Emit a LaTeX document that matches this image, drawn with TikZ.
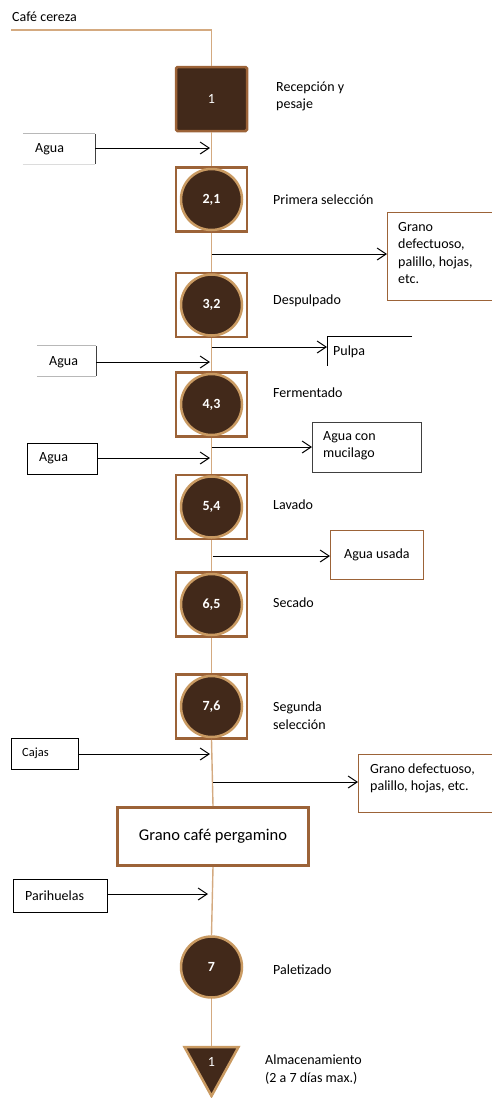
\documentclass[tikz,border=0pt]{standalone}
\usepackage{fontspec}
\setmainfont{Carlito}
\usetikzlibrary{arrows.meta}
\definecolor{bean}{HTML}{42291A}
\definecolor{rim}{HTML}{9C6338}
\definecolor{tanrim}{HTML}{C99A62}
\definecolor{flow}{HTML}{D4AA80}
\definecolor{edgegray}{HTML}{404040}
\definecolor{palegray}{HTML}{B8B8B8}
\begin{document}
\begin{tikzpicture}[x=1pt,y=-1pt,
  lbl/.style={anchor=west, font=\fontsize{14}{17.5}\selectfont, align=left, inner sep=0pt},
  frame/.style={draw=rim, line width=2.5pt, fill=white, minimum width=71pt, minimum height=64pt, inner sep=0pt},
  disc/.style={circle, draw=tanrim, line width=2.5pt, fill=bean, minimum size=61pt, inner sep=0pt,
    text=white, font=\bfseries\fontsize{14}{16}\selectfont},
  flowline/.style={draw=flow, line width=1.4pt},
  arr/.style={draw=black, line width=1pt, -{Straight Barb[length=9pt,width=12pt,line width=1pt]}},
  sidebox/.style={rectangle, line width=0.9pt, inner sep=0pt, anchor=north west},
  txt/.style={anchor=west, inner sep=0pt, align=left, font=\fontsize{14}{17.5}\selectfont}
]
\useasboundingbox (0,0) rectangle (491,1098);

% ---------- process steps on the main line ----------
\node[rectangle, draw=rim, line width=2.5pt, fill=bean, rounded corners=1.5pt,
      minimum width=71pt, minimum height=64pt, text=white,
      font=\fontsize{14}{16}\selectfont] (s1) at (211.5,99) {1};

\node[frame] (s2) at (211.5,199.5) {};
\node[disc]  (c2) at (211.5,199.5) {2,1};
\node[frame] (s3) at (211.5,305) {};
\node[disc]  (c3) at (211.5,305) {3,2};
\node[frame] (s4) at (211.5,404.5) {};
\node[disc]  (c4) at (211.5,404.5) {4,3};
\node[frame] (s5) at (211.5,507) {};
\node[disc]  (c5) at (211.5,507) {5,4};
\node[frame] (s6) at (211.5,604.5) {};
\node[disc]  (c6) at (211.5,604.5) {6,5};
\node[frame] (s7) at (211.5,706.5) {};
\node[disc]  (c7) at (211.5,706.5) {7,6};

\node[rectangle, draw=rim, line width=3pt, fill=white, minimum width=191pt, minimum height=58pt,
      font=\fontsize{16.5}{20}\selectfont] (perg) at (213,836.5) {Grano café pergamino};

\node[disc] (pal) at (211.5,967) {7};

% storage triangle
\coordinate (tri) at (211.5,1046);
\draw[draw=tanrim, fill=bean, line width=2.5pt, line join=miter]
  (184.5,1047) -- (238.5,1047) -- (211.5,1096) -- cycle;
\node[text=white, font=\fontsize{14}{16}\selectfont] (t1) at (211.5,1062) {1};

% ---------- step labels ----------
\node[txt] (cafe) at (12,17) {Café cereza};
\node[lbl] (l1) at (276,96.5) {Recepción y\\pesaje};
\node[lbl] (l2) at (273,200) {Primera selección};
\node[lbl] (l3) at (273,301) {Despulpado};
\node[lbl] (l4) at (273,393) {Fermentado};
\node[lbl] (l5) at (273,505) {Lavado};
\node[lbl] (l6) at (273,603) {Secado};
\node[lbl] (l7) at (273,715.5) {Segunda\\selección};
\node[lbl] (l8) at (273,970) {Paletizado};
\node[lbl] (l9) at (265,1069.5) {Almacenamiento\\(2 a 7 días max.)};

% ---------- main flow line ----------
\coordinate (start) at (11,30);
\coordinate (bend) at (211.5,30);
\draw[flowline] (start) -- (bend) -- (s1.north);
\draw[flowline] (s1.south) -- (s2.north);
\draw[flowline] (s2.south) -- (s3.north);
\draw[flowline] (s3.south) -- (s4.north);
\draw[flowline] (s4.south) -- (s5.north);
\draw[flowline] (s5.south) -- (s6.north);
\draw[flowline] (s6.south) -- (s7.north);
\draw[flowline] (s7.south) -- (perg.north);
\draw[flowline] (perg.south) -- (pal.north);
\draw[flowline] (pal.south) -- (tri);

% ---------- inputs ----------
% water for reception
\node[rectangle, minimum width=72pt, minimum height=30pt, inner sep=0pt] (a1) at (59,149) {};
\node[txt] (a1t) at (35,149) {Agua};
\draw[palegray, line width=0.8pt] (a1.north west) -- (a1.north east);
\draw[palegray!50, line width=0.8pt] (a1.south west) -- (a1.south east);
\draw[edgegray, line width=0.9pt] (a1.north east) -- (a1.south east);
\coordinate (in1) at (210,148);
\draw[arr] (a1.east |- in1) -- (in1);

% water for pulping
\node[rectangle, minimum width=59pt, minimum height=30pt, inner sep=0pt] (a2) at (66.5,361) {};
\node[txt] (a2t) at (49,362) {Agua};
\draw[palegray, line width=0.8pt] (a2.north west) -- (a2.north east);
\draw[palegray, line width=0.8pt] (a2.south west) -- (a2.south east);
\draw[edgegray, line width=0.9pt] (a2.north east) -- (a2.south east);
\coordinate (in2) at (210,362);
\draw[arr] (a2.east |- in2) -- (in2);

% water for fermenting
\node[rectangle, draw=black, line width=0.9pt, minimum width=70pt, minimum height=31pt, inner sep=0pt] (a3) at (62,458.5) {};
\node[txt] (a3t) at (39,458) {Agua};
\coordinate (in3) at (210,458);
\draw[arr] (a3.east |- in3) -- (in3);

% boxes
\node[rectangle, draw=black, line width=0.9pt, minimum width=67pt, minimum height=31pt, inner sep=0pt] (cj) at (44.5,753.5) {};
\node[anchor=west, inner sep=0pt, font=\fontsize{12.5}{14}\selectfont] (cjt) at (22,753) {Cajas};
\coordinate (in4) at (210,754);
\draw[arr] (cj.east |- in4) -- (in4);

% pallets
\node[rectangle, draw=black, line width=0.9pt, minimum width=94pt, minimum height=33pt, inner sep=0pt] (ph) at (60,895.5) {};
\node[txt] (pht) at (25,896) {Parihuelas};
\coordinate (in5) at (208,894);
\draw[arr] (ph.east |- in5) -- (in5);

% ---------- outputs ----------
\node[sidebox, draw=rim, minimum width=106pt, minimum height=88pt] (g1) at (387,212) {};
\node[txt] (g1t) at (398,253) {Grano\\defectuoso,\\palillo, hojas,\\etc.};
\coordinate (o1) at (212,254);
\draw[arr] (o1) -- (o1 -| g1.west);

\node[txt] (pu) at (333,352) {Pulpa};
\coordinate (pulc) at (327,336);
\draw[black, line width=0.8pt] (412,336) -- (pulc) -- (327,366);
\coordinate (o2) at (212,347);
\draw[arr] (o2) -- (o2 -| pulc);

\node[sidebox, draw=edgegray, minimum width=109pt, minimum height=50pt] (mu) at (312,422) {};
\node[txt] (mut) at (323,445.5) {Agua con\\mucilago};
\coordinate (o3) at (212,447);
\draw[arr] (o3) -- (o3 -| mu.west);

\node[sidebox, draw=rim, minimum width=93pt, minimum height=49pt,
      font=\fontsize{14}{17.5}\selectfont] (au) at (330,530) {Agua usada};
\coordinate (o4) at (213,556);
\draw[arr] (o4) -- (o4 -| au.west);

\node[sidebox, draw=rim, minimum width=135pt, minimum height=58pt] (g2) at (358,754) {};
\node[txt] (g2t) at (370,778.5) {Grano defectuoso,\\palillo, hojas, etc.};
\coordinate (o5) at (213,782);
\draw[arr] (o5) -- (o5 -| g2.west);
\end{tikzpicture}
\end{document}
